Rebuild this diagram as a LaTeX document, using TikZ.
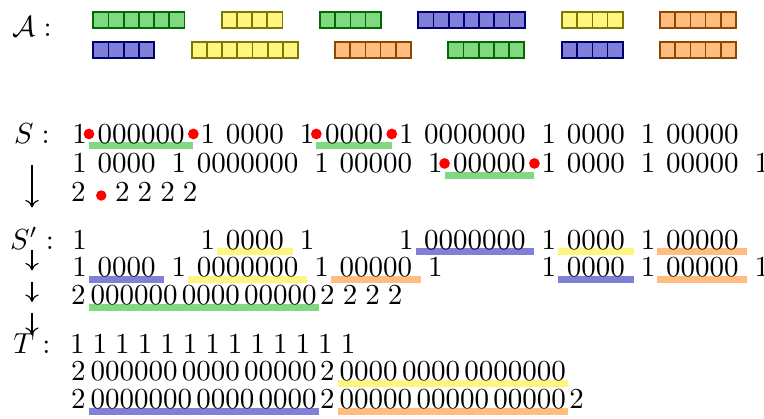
\documentclass[tikz,border=0pt]{standalone}
\usetikzlibrary{positioning}
\usetikzlibrary{backgrounds}
\usetikzlibrary{arrows.meta}

\definecolor{grn}{RGB}{128,216,128}
\definecolor{grnd}{RGB}{0,105,0}
\definecolor{blu}{RGB}{128,128,216}
\definecolor{blud}{RGB}{0,0,115}
\definecolor{ylw}{RGB}{255,246,128}
\definecolor{ylwd}{RGB}{125,118,0}
\definecolor{org}{RGB}{255,190,128}
\definecolor{orgd}{RGB}{140,70,0}

\begin{document}
\begin{tikzpicture}[x=0.3448pt,y=-0.3448pt]
	\tikzset{cell/.style = {fill=#1, draw=#1d, line width=0.6pt},
		lbl/.style = {anchor=base, inner sep=0pt},
		dig/.style = {inner sep=0pt, outer sep=0pt, anchor=base west},
		zeros/.style = {inner xsep=3pt, inner ysep=0.6pt},
		grp/.style = {inner xsep=0.7pt, inner ysep=0.6pt},
		bar/.style = {line width=2.35pt},
		rdot/.style = {circle, fill=red, inner sep=0pt, minimum size=3.6pt},
		dn/.style = {-{Computer Modern Rightarrow[length=2.6pt,width=4.6pt]}, line width=0.4pt}}
	\useasboundingbox (0,0) rectangle (764,419);
	
	% the sets of A
	\foreach \x/\n/\cl in {93.3/6/grn, 221.7/4/ylw, 320/4/grn, 418.3/7/blu, 562/4/ylw, 660/5/org}
		\foreach \k in {1,...,\n}
			\draw[cell=\cl] (\x+15.2*\k-15.2,12) rectangle ++(15.2,16);
	\foreach \x/\n/\cl in {93.3/4/blu, 191.7/7/ylw, 335/5/org, 448.3/5/grn, 562/4/blu, 660/5/org}
		\foreach \k in {1,...,\n}
			\draw[cell=\cl] (\x+15.2*\k-15.2,42) rectangle ++(15.2,16);
	
	\node[lbl] (A) at (32,37) {$\mathcal{A}:$};
	\node[lbl] (S) at (32,143.3) {$S:$};
	\node[lbl] (Sp) at (32,249.3) {$S':$};
	\node[lbl] (T) at (32,353.5) {$T:$};
	
	% S
	\node[dig] (s1z0) at (62.3,143.3) {};
	\foreach \zr/\bc/\dc [count=\i, remember=\i as \j (initially 0)] in
		{000000/grn/red, 0000/none/none, 0000/grn/red, 0000000/none/none, 0000/none/none, 00000/none/none} {
		\node[dig, base right=2.5pt of s1z\j] (s1o\i) {1};
		\node[dig, zeros, base right=0.7pt of s1o\i] (s1z\i) {\zr};
		\begin{pgfonlayer}{background}
			\draw[bar, draw=\bc] (s1z\i.south west) -- (s1z\i.south east);
		\end{pgfonlayer}
		\fill[fill=\dc] (s1z\i.west) circle (1.85pt) (s1z\i.east) circle (1.85pt);
	}
	\node[dig] (s2z0) at (62.3,172.8) {};
	\foreach \zr/\bc/\dc [count=\i, remember=\i as \j (initially 0)] in
		{0000/none/none, 0000000/none/none, 00000/none/none, 00000/grn/red, 0000/none/none, 00000/none/none} {
		\node[dig, base right=2.5pt of s2z\j] (s2o\i) {1};
		\node[dig, zeros, base right=0.7pt of s2o\i] (s2z\i) {\zr};
		\begin{pgfonlayer}{background}
			\draw[bar, draw=\bc] (s2z\i.south west) -- (s2z\i.south east);
		\end{pgfonlayer}
		\fill[fill=\dc] (s2z\i.west) circle (1.85pt) (s2z\i.east) circle (1.85pt);
	}
	\node[dig, base right=2.5pt of s2z6] (s2o7) {1};
	\node[dig] (s3a) at (71.1,201.7) {2};
	\node[rdot, right=3.4pt of s3a, yshift=-1.2pt] (s3d) {};
	\node[dig, base right=10.2pt of s3a] (s3b) {$2\;2\;2\;2$};
	
	% S'
	\node[dig] (p1z0) at (62.3,249.3) {};
	\foreach \zr/\bc [count=\i, remember=\i as \j (initially 0)] in
		{\phantom{000000}/none, 0000/ylw, \phantom{0000}/none, 0000000/blu, 0000/ylw, 00000/org} {
		\node[dig, base right=2.5pt of p1z\j] (p1o\i) {1};
		\node[dig, zeros, base right=0.7pt of p1o\i] (p1z\i) {\zr};
		\begin{pgfonlayer}{background}
			\draw[bar, draw=\bc] (p1z\i.south west) -- (p1z\i.south east);
		\end{pgfonlayer}
	}
	\node[dig] (p2z0) at (62.3,276.9) {};
	\foreach \zr/\bc [count=\i, remember=\i as \j (initially 0)] in
		{0000/blu, 0000000/ylw, 00000/org, \phantom{00000}/none, 0000/blu, 00000/org} {
		\node[dig, base right=2.5pt of p2z\j] (p2o\i) {1};
		\node[dig, zeros, base right=0.7pt of p2o\i] (p2z\i) {\zr};
		\begin{pgfonlayer}{background}
			\draw[bar, draw=\bc] (p2z\i.south west) -- (p2z\i.south east);
		\end{pgfonlayer}
	}
	\node[dig, base right=2.5pt of p2z6] (p2o7) {1};
	\node[dig] (p3a) at (71.1,305) {2};
	\node[dig, grp, base right=1pt of p3a] (p3g) {000000\hspace{1.5pt}0000\hspace{1.5pt}00000};
	\node[dig, base right=0.5pt of p3g] (p3b) {$2\;2\;2\;2$};
	
	% T
	\node[dig] (t1) at (70.1,353.5) {$1\;1\;1\;1\;1\;1\;1\;1\;1\;1\;1\;1\;1$};
	\node[dig] (t2a) at (71.1,381) {2};
	\node[dig, grp, base right=1pt of t2a] (t2g) {000000\hspace{1.5pt}0000\hspace{1.5pt}00000};
	\node[dig, base right=0.5pt of t2g] (t2b) {2};
	\node[dig, grp, base right=1pt of t2b] (t2h) {0000\hspace{1.5pt}0000\hspace{1.5pt}0000000};
	\node[dig] (t3a) at (71.1,409) {2};
	\node[dig, grp, base right=1pt of t3a] (t3g) {0000000\hspace{1.5pt}0000\hspace{1.5pt}0000};
	\node[dig, base right=0.5pt of t3g] (t3b) {2};
	\node[dig, grp, base right=1pt of t3b] (t3h) {00000\hspace{1.5pt}00000\hspace{1.5pt}00000};
	\node[dig, base right=0.5pt of t3h] (t3c) {2};
	\begin{pgfonlayer}{background}
		\draw[bar, draw=grn] (p3g.south west) -- (p3g.south east);
		\draw[bar, draw=ylw] (t2h.south west) -- (t2h.south east);
		\draw[bar, draw=blu] (t3g.south west) -- (t3g.south east);
		\draw[bar, draw=org] (t3h.south west) -- (t3h.south east);
	\end{pgfonlayer}
	
	% arrows
	\coordinate (d1) at (32,165);
	\coordinate (d2) at (32,207.5);
	\coordinate (d3) at (32,250);
	\coordinate (d4) at (32,270.5);
	\coordinate (d5) at (32,282);
	\coordinate (d6) at (32,302);
	\coordinate (d7) at (32,313);
	\coordinate (d8) at (32,335);
	\draw[dn] (d1) -- (d2);
	\draw[dn] (d3) -- (d4);
	\draw[dn] (d5) -- (d6);
	\draw[dn] (d7) -- (d8);
\end{tikzpicture}
\end{document}
